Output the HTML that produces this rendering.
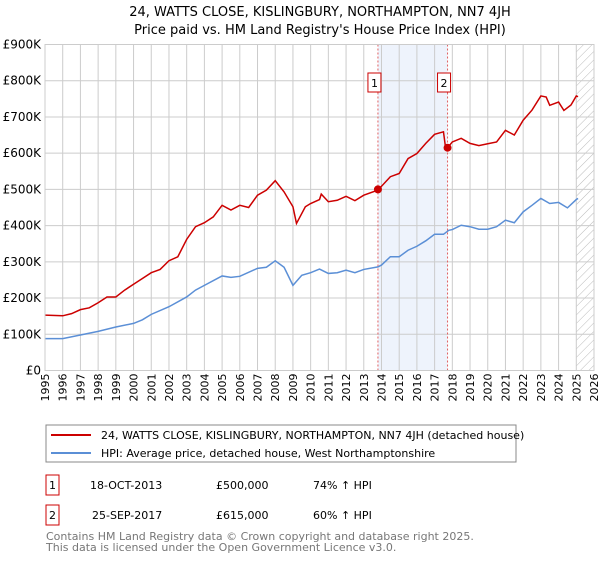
<!DOCTYPE html>
<html><head><meta charset="utf-8"><style>
body{margin:0;background:#fff;font-family:"Liberation Sans","DejaVu Sans",sans-serif;}
svg text{font-family:"DejaVu Sans","Liberation Sans",sans-serif;}
</style></head><body>
<svg id="chart" width="600" height="560" xmlns="http://www.w3.org/2000/svg">
<defs><pattern id="hatch" width="6" height="6" patternUnits="userSpaceOnUse" patternTransform="rotate(45)"><line x1="0" y1="0" x2="0" y2="6" stroke="#bbb" stroke-width="1"/></pattern></defs>
<text x="320" y="16" text-anchor="middle" font-size="13">24, WATTS CLOSE, KISLINGBURY, NORTHAMPTON, NN7 4JH</text>
<text x="320" y="34" text-anchor="middle" font-size="13">Price paid vs. HM Land Registry's House Price Index (HPI)</text>
<g id="grid"></g><g id="marks"></g>
<rect x="46" y="425" width="470" height="37" fill="#fff" stroke="#888"/>
<line x1="51" y1="435" x2="91" y2="435" stroke="#cc0000" stroke-width="2"/>
<text x="101" y="439" font-size="11">24, WATTS CLOSE, KISLINGBURY, NORTHAMPTON, NN7 4JH (detached house)</text>
<line x1="51" y1="453" x2="91" y2="453" stroke="#5b8fd6" stroke-width="2"/>
<text x="101" y="457" font-size="11">HPI: Average price, detached house, West Northamptonshire</text>
<rect x="46" y="475" width="13" height="20" fill="#fff" stroke="#cc0000"/>
<text x="52.5" y="489" text-anchor="middle" font-size="11">1</text>
<text x="90" y="489" font-size="11">18-OCT-2013</text>
<text x="216" y="489" font-size="11">£500,000</text>
<text x="313" y="489" font-size="11">74% ↑ HPI</text>
<rect x="46" y="505" width="13" height="20" fill="#fff" stroke="#cc0000"/>
<text x="52.5" y="519" text-anchor="middle" font-size="11">2</text>
<text x="92" y="519" font-size="11">25-SEP-2017</text>
<text x="216" y="519" font-size="11">£615,000</text>
<text x="313" y="519" font-size="11">60% ↑ HPI</text>
<text x="46" y="540" font-size="11" fill="#777">Contains HM Land Registry data © Crown copyright and database right 2025.</text>
<text x="46" y="551" font-size="11" fill="#777">This data is licensed under the Open Government Licence v3.0.</text>
</svg>
<script>
const hpiYears=[1995,1996,1997,1998,1999,2000,2000.5,2001,2002,2003,2003.5,2004,2005,2005.5,2006,2007,2007.5,2008,2008.5,2009,2009.5,2010,2010.5,2011,2011.5,2012,2012.5,2013,2013.8,2014,2014.5,2015,2015.5,2016,2016.5,2017,2017.5,2017.8,2018,2018.5,2019,2019.5,2020,2020.5,2021,2021.5,2022,2022.5,2023,2023.5,2024,2024.5,2025,2025.1];
const hpiValues=[88,88,98,108,120,130,140,155,176,203,222,235,261,257,260,282,285,303,285,235,263,270,280,268,270,277,270,279,286,291,314,314,332,343,358,376,376,387,389,401,397,390,390,397,415,408,438,456,475,461,464,449,472,475];
const propYears=[1995,1996,1996.5,1997,1997.5,1998,1998.5,1999,1999.5,2000,2000.5,2001,2001.5,2002,2002.5,2003,2003.5,2004,2004.5,2005,2005.5,2006,2006.5,2007,2007.5,2008,2008.5,2009,2009.2,2009.7,2010,2010.5,2010.6,2011,2011.5,2012,2012.5,2013,2013.8,2014.5,2015,2015.5,2016,2016.5,2017,2017.5,2017.6,2017.75,2018,2018.5,2019,2019.5,2020,2020.5,2021,2021.5,2022,2022.5,2023,2023.3,2023.5,2024,2024.3,2024.7,2025,2025.1];
const propValues=[153,151,157,168,173,187,203,203,222,238,254,270,279,303,314,362,397,408,424,456,443,456,450,484,498,524,493,452,406,452,461,472,487,466,470,481,469,484,498,535,544,585,599,627,652,659,622,616,631,641,627,621,626,631,663,650,691,719,758,755,732,741,718,733,758,756];
const saleYears=[2013.8,2017.73];
const saleValues=[500,615];
const saleLabels=["1","2"];
const yTicks=[0,100,200,300,400,500,600,700,800,900];
const yTickLabels=["£0","£100K","£200K","£300K","£400K","£500K","£600K","£700K","£800K","£900K"];
const xTicks=[1995,1996,1997,1998,1999,2000,2001,2002,2003,2004,2005,2006,2007,2008,2009,2010,2011,2012,2013,2014,2015,2016,2017,2018,2019,2020,2021,2022,2023,2024,2025,2026];
const X0=45,X1=594,Y0=370.5,Y1=44.5;
const x=y=>X0+(y-1995)/31*(X1-X0);
const yy=v=>Y0-v/900*(Y0-Y1);
const NS="http://www.w3.org/2000/svg";
function mk(tag,attrs,parent){const e=document.createElementNS(NS,tag);for(const k in attrs)e.setAttribute(k,attrs[k]);parent.appendChild(e);return e;}
const g=document.getElementById('grid'),m=document.getElementById('marks');
let r=mk('rect',{x:x(saleYears[0]),y:Y1,width:x(saleYears[1])-x(saleYears[0]),height:Y0-Y1,fill:'#eef3fc'},g);


r=mk('rect',{x:x(2025),y:Y1,width:X1-x(2025),height:Y0-Y1,fill:'url(#hatch)'},g);


xTicks.forEach(t=>{
 const l=mk('line',{x1:x(t),x2:x(t),y1:Y1,y2:Y0,stroke:'#ccc'},g);
 
 
 const tx=mk('text',{x:0,y:0,'font-size':11,'text-anchor':'end',transform:`translate(${x(t)+4},${Y0+3}) rotate(-90)`},g);
 tx.textContent=t;
 
 
});
yTicks.forEach((t,i)=>{
 const l=mk('line',{x1:X0,x2:X1,y1:yy(t),y2:yy(t),stroke:'#ccc'},g);
 
 
 const tx=mk('text',{x:X0-4,y:yy(t)+4,'font-size':12,'text-anchor':'end'},g);
 tx.textContent=yTickLabels[i];
 
 
});
saleYears.forEach((s,i)=>{
 const l=mk('line',{x1:x(s),x2:x(s),y1:Y1,y2:Y0,stroke:'#e06060','stroke-dasharray':'2,2'},m);
 
 
});
let p=mk('polyline',{points:hpiYears.map((a,i)=>x(a)+','+yy(hpiValues[i])).join(' '),fill:'none',stroke:'#5b8fd6','stroke-width':1.5},m);


p=mk('polyline',{points:propYears.map((a,i)=>x(a)+','+yy(propValues[i])).join(' '),fill:'none',stroke:'#cc0000','stroke-width':1.5},m);


saleYears.forEach((s,i)=>{
 const c=mk('circle',{cx:x(s),cy:yy(saleValues[i]),r:4,fill:'#cc0000'},m);
 
 
 const b=mk('rect',{x:x(s)-10,y:73,width:13,height:19,fill:'#fff',stroke:'#cc0000'},m);
 
 
 const t=mk('text',{x:x(s)-3.5,y:87,'font-size':11,'text-anchor':'middle'},m);
 t.textContent=saleLabels[i];
 
 
});
const ax=mk('rect',{x:X0,y:Y1,width:X1-X0,height:Y0-Y1,fill:'none',stroke:'#ccc'},m);


</script>
</body></html>
